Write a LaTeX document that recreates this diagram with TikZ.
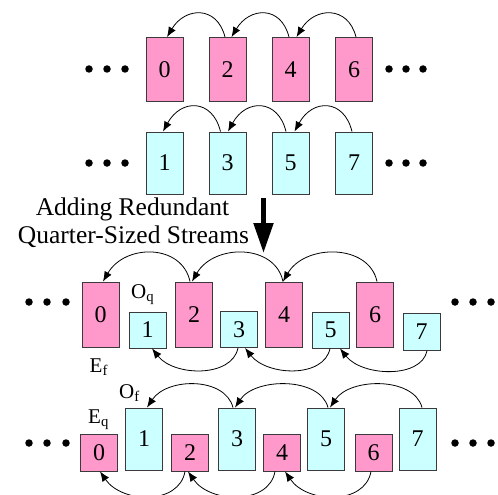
\documentclass[tikz,border=0pt]{standalone}
\usepackage{fontspec}
\setmainfont{Liberation Serif}
\usetikzlibrary{arrows.meta}
\definecolor{evenpink}{HTML}{FF99CC}
\definecolor{oddcyan}{HTML}{CCFFFF}
\definecolor{edgegray}{HTML}{3A3A3A}
\begin{document}
\begin{tikzpicture}[x=1pt,y=-1pt,
  blk/.style={draw=edgegray, line width=0.9pt, minimum width=37pt, inner sep=0pt,
    font=\fontsize{24}{24}\selectfont},
  tall/.style={blk, minimum height=64pt},
  short/.style={blk, minimum height=37pt},
  ev/.style={fill=evenpink},
  od/.style={fill=oddcyan},
  link/.style={line width=0.8pt, -{Latex[length=10pt,width=8pt]}},
  lbl/.style={anchor=base west, inner sep=0pt, font=\fontsize{21}{21}\selectfont},
  caption/.style={anchor=base, inner sep=0pt, font=\fontsize{25.5}{28}\selectfont},
  dot/.style={circle, fill=black, inner sep=0pt, minimum size=7.5pt}
]
\useasboundingbox (0,0) rectangle (498,495);

% ---------- full-sized even stream ----------
\node[tall,ev] (a0) at (164.5,69.5) {0};
\node[tall,ev] (a2) at (227.5,69.5) {2};
\node[tall,ev] (a4) at (290.5,69.5) {4};
\node[tall,ev] (a6) at (354,69.5) {6};

% ---------- full-sized odd stream ----------
\node[tall,od,minimum height=62pt] (b1) at (164.5,163) {1};
\node[tall,od,minimum height=62pt] (b3) at (227.5,163) {3};
\node[tall,od,minimum height=62pt] (b5) at (290.5,163) {5};
\node[tall,od,minimum height=62pt] (b7) at (354,163) {7};

% ---------- dots ----------
\foreach \yy/\tag in {69/a,163/b}{
  \node[dot] (\tag l1) at (89,\yy) {};
  \node[dot] (\tag l2) at (107,\yy) {};
  \node[dot] (\tag l3) at (125,\yy) {};
  \node[dot] (\tag r1) at (389,\yy) {};
  \node[dot] (\tag r2) at (406,\yy) {};
  \node[dot] (\tag r3) at (423,\yy) {};
}
\foreach \yy/\tag in {302/c,443/d}{
  \node[dot] (\tag l1) at (29,\yy) {};
  \node[dot] (\tag l2) at (47,\yy) {};
  \node[dot] (\tag l3) at (66,\yy) {};
  \node[dot] (\tag r1) at (455,\yy) {};
  \node[dot] (\tag r2) at (473,\yy) {};
  \node[dot] (\tag r3) at (491,\yy) {};
}

% ---------- dependencies, full streams ----------
\draw[link] ([xshift=-2.5pt]a2.north) .. controls +(-8,-32) and +(18,-30) .. ([xshift=2.5pt]a0.north);
\draw[link] ([xshift=-1.5pt]a4.north) .. controls +(-8,-32) and +(18,-30) .. ([xshift=4pt]a2.north);
\draw[link] ([xshift=2pt]a6.north) .. controls +(-8,-32) and +(18,-30) .. ([xshift=6pt]a4.north);

\draw[link] ([xshift=-7pt]b3.north) .. controls +(-8,-33) and +(18,-33) .. ([xshift=-1.5pt]b1.north);
\draw[link] ([xshift=-4.5pt]b5.north) .. controls +(-8,-33) and +(18,-33) .. ([xshift=0.5pt]b3.north);
\draw[link] ([xshift=-2pt]b7.north) .. controls +(-8,-33) and +(18,-33) .. ([xshift=4pt]b5.north);

% ---------- transition ----------
\node[caption] (cap1) at (132.5,215) {Adding Redundant};
\node[caption] (cap2) at (133.5,243) {Quarter-Sized Streams};
\coordinate (ta) at (263.5,198);
\coordinate (tb) at (263.5,253);
\draw[line width=5pt, -{Triangle[length=30pt,width=19pt]}] (ta) -- (tb);

% ---------- even full + odd quarter ----------
\node[tall,ev,minimum height=65pt] (c0) at (100.5,314.5) {0};
\node[tall,ev,minimum height=65pt] (c2) at (194,314.5) {2};
\node[tall,ev,minimum height=65pt] (c4) at (284,314.5) {4};
\node[tall,ev,minimum height=65pt] (c6) at (375,314.5) {6};
\node[short,od,minimum height=36pt] (c1) at (147.5,330) {1};
\node[short,od,minimum height=36pt] (c3) at (239,329.5) {3};
\node[short,od,minimum height=36pt] (c5) at (330.5,330) {5};
\node[short,od,minimum height=37pt] (c7) at (421.5,332) {7};

\node[lbl] (oq) at (131,298) {O\textsubscript{q}};
\node[lbl] (ef) at (89.5,372) {E\textsubscript{f}};

\draw[link] ([xshift=-4pt]c2.north) .. controls +(-8,-38) and +(22,-38) .. ([xshift=2.5pt]c0.north);
\draw[link] ([xshift=-1pt]c4.north) .. controls +(-8,-38) and +(22,-38) .. ([xshift=-2pt]c2.north);
\draw[link] ([xshift=2pt]c6.north) .. controls +(-8,-38) and +(22,-38) .. ([xshift=-1pt]c4.north);

\draw[link] ([xshift=-1pt]c3.south) .. controls +(-6,30) and +(22,28) .. ([xshift=4.5pt]c1.south);
\draw[link] ([xshift=-0.5pt]c5.south) .. controls +(-6,30) and +(22,28) .. ([xshift=6pt]c3.south);
\draw[link] ([xshift=5.5pt]c7.south) .. controls +(-6,28) and +(22,28) .. ([xshift=9.5pt]c5.south);

% ---------- odd full + even quarter ----------
\node[tall,od,minimum height=62pt] (d1) at (144,439) {1};
\node[tall,od,minimum height=62pt] (d3) at (237,439) {3};
\node[tall,od,minimum height=62pt] (d5) at (326,439) {5};
\node[tall,od,minimum height=62pt] (d7) at (417.5,439) {7};
\node[short,ev] (d0) at (99,452.5) {0};
\node[short,ev] (d2) at (190,452.5) {2};
\node[short,ev] (d4) at (282,452.5) {4};
\node[short,ev] (d6) at (373.5,452.5) {6};

\node[lbl] (of) at (119,398) {O\textsubscript{f}};
\node[lbl] (eq) at (88,423) {E\textsubscript{q}};

\draw[link] ([xshift=-4pt]d3.north) .. controls +(-8,-31) and +(20,-30) .. ([xshift=3pt]d1.north);
\draw[link] ([xshift=2pt]d5.north) .. controls +(-8,-31) and +(20,-30) .. ([xshift=-2pt]d3.north);
\draw[link] ([xshift=4.5pt]d7.north) .. controls +(-8,-31) and +(20,-30) .. ([xshift=4pt]d5.north);

\draw[link] ([xshift=-5pt]d2.south) .. controls +(-6,34) and +(22,32) .. ([xshift=1pt]d0.south);
\draw[link] ([xshift=-7pt]d4.south) .. controls +(-6,34) and +(22,32) .. ([xshift=-2pt]d2.south);
\draw[link] ([xshift=-2.5pt]d6.south) .. controls +(-6,34) and +(22,32) .. ([xshift=3pt]d4.south);
\end{tikzpicture}
\end{document}
